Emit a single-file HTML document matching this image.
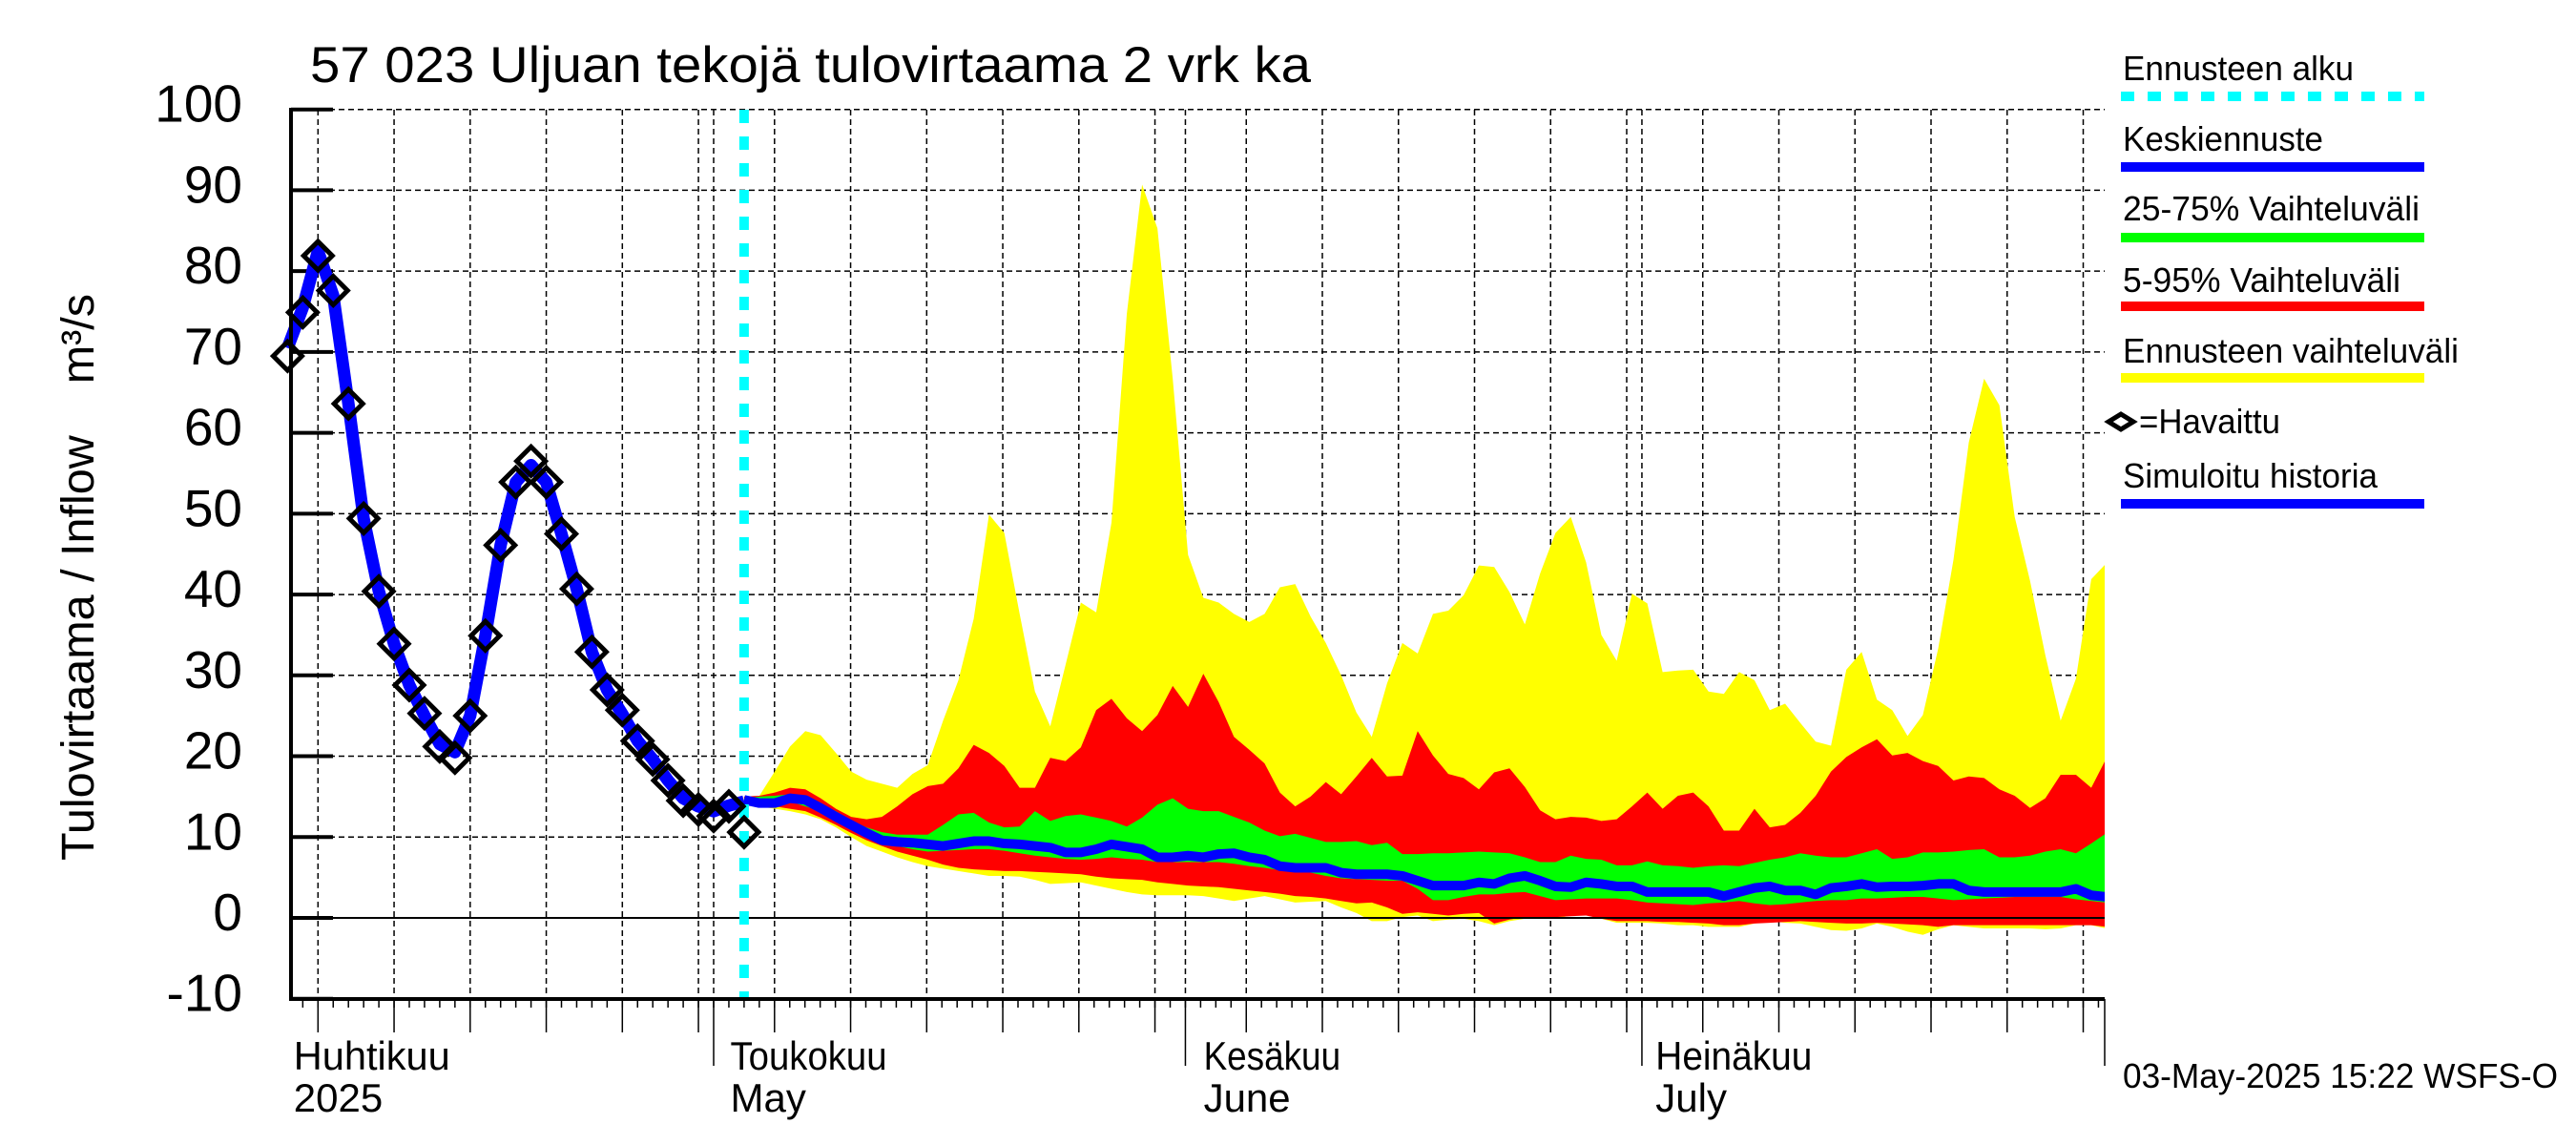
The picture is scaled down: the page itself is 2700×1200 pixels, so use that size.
<!DOCTYPE html>
<html><head><meta charset="utf-8"><style>
html,body{margin:0;padding:0;background:#fff;}
svg{display:block;font-family:"Liberation Sans",Arial,sans-serif;}
</style></head><body>
<svg id="chart" width="2700" height="1200" viewBox="0 0 2700 1200" xmlns="http://www.w3.org/2000/svg">
<text x="325" y="86" font-size="53" textLength="1049" lengthAdjust="spacingAndGlyphs">57 023 Uljuan tekojä tulovirtaama 2 vrk ka</text>
<text transform="translate(98,902) rotate(-90)" font-size="48" style="white-space:pre" textLength="594" lengthAdjust="spacingAndGlyphs">Tulovirtaama / Inflow    m³/s</text>
<g id="plot"></g>
<g id="legend">
 <text x="2225" y="84" font-size="36" textLength="242" lengthAdjust="spacingAndGlyphs">Ennusteen alku</text>
 <line x1="2223" y1="101" x2="2541" y2="101" stroke="#00ffff" stroke-width="10" stroke-dasharray="14 14"/>
 <text x="2225" y="158" font-size="36" textLength="210" lengthAdjust="spacingAndGlyphs">Keskiennuste</text>
 <rect x="2223" y="170" width="318" height="10" fill="#0000ff"/>
 <text x="2225" y="231" font-size="36" textLength="311" lengthAdjust="spacingAndGlyphs">25-75% Vaihteluväli</text>
 <rect x="2223" y="244" width="318" height="10" fill="#00ff00"/>
 <text x="2225" y="306" font-size="36" textLength="291" lengthAdjust="spacingAndGlyphs">5-95% Vaihteluväli</text>
 <rect x="2223" y="316" width="318" height="10" fill="#ff0000"/>
 <text x="2225" y="380" font-size="36" textLength="352" lengthAdjust="spacingAndGlyphs">Ennusteen vaihteluväli</text>
 <rect x="2223" y="391" width="318" height="10" fill="#ffff00"/>
 <path d="M2210,442 L2223,434 L2236,442 L2223,450 Z" fill="none" stroke="#000" stroke-width="5"/>
 <text x="2242" y="454" font-size="36" textLength="148" lengthAdjust="spacingAndGlyphs">=Havaittu</text>
 <text x="2225" y="511" font-size="36" textLength="267" lengthAdjust="spacingAndGlyphs">Simuloitu historia</text>
 <rect x="2223" y="523" width="318" height="10" fill="#0000ff"/>
</g>
<text x="2225" y="1140" font-size="36" textLength="456" lengthAdjust="spacingAndGlyphs">03-May-2025 15:22 WSFS-O</text>
</svg>
<script>
// days relative to 1 May 2025
const obsDays = [-28,-27,-26,-25,-24,-23,-22,-21,-20,-19,-18,-17,-16,-15,-14,-13,-12,-11,-10,-9,-8,-7,-6,-5,-4,-3,-2,-1,0,1,2];
const observed = [69.5,74.9,81.9,77.6,63.6,49.4,40.4,33.9,28.8,25.3,21.2,19.8,25.0,34.9,46.1,53.9,56.5,53.9,47.5,40.7,32.9,28.2,25.7,21.9,19.6,17.0,14.5,13.4,12.6,13.8,10.6];
const simHistory = [70.5,75.5,82.5,77.0,63.6,49.4,40.4,33.9,28.8,25.0,21.5,20.5,25.0,34.9,46.1,53.9,56.0,53.9,47.5,40.7,32.9,28.2,25.2,21.9,19.6,17.0,14.8,13.8,13.2,13.9,14.4];
const yellowTop = [15.0,15.1,18.1,21.2,23.1,22.6,20.4,18.1,17.1,16.6,16.1,17.8,18.9,24.4,29.4,37.0,49.9,47.6,37.6,28.0,23.7,31.3,39.0,37.8,48.9,74.7,90.7,85.3,66.7,44.9,39.6,39.0,37.6,36.6,37.6,40.9,41.3,37.3,34.0,30.0,25.4,22.4,29.0,34.0,32.7,
 37.6,38.0,39.9,43.6,43.4,40.3,36.3,42.6,47.6,49.6,44.0,35.0,31.8,40.1,38.9,30.4,30.6,30.7,28.0,27.7,30.4,29.4,25.7,26.5,24.1,21.8,21.3,30.7,32.9,27.0,25.7,22.5,25.1,33.3,44.3,58.8,66.7,63.4,49.6,41.7,32.5,24.4,29.6,41.9,43.9];
const redTop = [15.0,15.1,15.5,16.1,15.9,14.8,13.5,12.5,12.2,12.5,13.8,15.3,16.3,16.6,18.5,21.4,20.4,18.8,16.1,16.1,19.8,19.4,21.1,25.7,27.1,24.7,23.1,25.1,28.7,26.1,30.2,26.7,22.4,20.8,19.1,15.5,13.8,15.0,16.8,15.3,17.5,19.8,17.5,17.6,23.1,
 20.1,17.8,17.3,15.9,18.0,18.5,16.2,13.3,12.2,12.5,12.4,12.0,12.2,13.8,15.5,13.5,15.1,15.5,13.8,10.8,10.8,13.5,11.2,11.5,13.0,15.1,18.1,19.9,21.1,22.1,20.1,20.4,19.4,18.8,17.0,17.5,17.3,15.9,15.1,13.6,14.8,17.7,17.7,16.1,19.8];
const greenTop = [14.8,15.0,15.1,15.3,14.8,14.0,13.2,12.0,11.2,10.6,10.3,10.3,10.3,11.5,12.8,13.0,11.8,11.2,11.3,13.2,12.0,12.6,12.8,12.4,12.0,11.3,12.4,14.0,14.8,13.5,13.2,13.2,12.5,11.8,10.8,10.1,10.4,9.9,9.4,9.4,9.5,9.0,9.3,7.9,7.9,
 8.0,8.0,8.1,8.2,8.1,8.0,7.5,6.9,6.9,7.7,7.3,7.2,6.5,6.5,7.0,6.5,6.4,6.2,6.4,6.5,6.4,6.8,7.2,7.5,8.0,7.7,7.5,7.5,8.0,8.5,7.3,7.5,8.1,8.1,8.2,8.4,8.5,7.5,7.5,7.7,8.2,8.5,8.0,9.2,10.5];
const median = [14.6,14.2,14.2,14.8,14.6,13.6,12.5,11.5,10.5,9.6,9.4,9.3,9.1,8.9,9.2,9.5,9.5,9.2,9.1,8.9,8.7,8.1,8.1,8.5,9.1,8.8,8.5,7.5,7.5,7.7,7.5,7.9,8.0,7.5,7.2,6.4,6.2,6.2,6.2,5.6,5.4,5.4,5.4,5.2,4.6,
 4.0,4.0,4.0,4.4,4.2,4.9,5.2,4.6,3.9,3.8,4.4,4.2,3.9,3.9,3.2,3.2,3.2,3.2,3.2,2.7,3.2,3.7,3.9,3.4,3.4,2.9,3.7,3.9,4.2,3.8,3.9,3.9,4.0,4.2,4.2,3.4,3.2,3.2,3.2,3.2,3.2,3.2,3.6,2.8,2.6];
const greenBottom = [14.5,14.4,14.4,14.4,13.8,13.2,12.2,11.2,10.2,9.5,8.9,8.5,8.2,8.3,8.4,8.5,8.5,8.3,8.0,7.7,7.5,7.3,7.2,7.3,7.5,7.3,7.2,6.9,6.9,6.9,6.9,6.9,6.7,6.4,6.2,5.9,5.8,5.6,5.2,4.9,4.8,4.7,4.6,4.6,3.6,
 2.2,2.2,2.6,2.9,2.9,3.1,3.2,2.7,2.2,2.3,2.4,2.4,2.4,2.2,1.9,1.8,1.7,1.6,1.8,1.9,2.1,1.8,1.6,1.7,1.9,2.1,2.2,2.2,2.4,2.4,2.5,2.6,2.6,2.4,2.2,2.3,2.4,2.5,2.6,2.6,2.6,2.6,2.3,2.1,1.9];
const redBottom = [14.4,14.1,13.8,13.5,13.2,12.4,11.5,10.5,9.6,8.9,8.2,7.7,7.2,6.6,6.2,6.0,5.9,5.8,5.8,5.7,5.6,5.5,5.4,5.1,4.9,4.8,4.7,4.4,4.2,4.0,3.9,3.8,3.6,3.4,3.2,3.0,2.7,2.6,2.4,2.1,1.8,1.9,1.3,0.5,0.7,
 0.5,0.3,0.5,0.6,-0.7,-0.2,0.1,0.1,0.1,0.2,0.3,-0.1,-0.4,-0.4,-0.4,-0.5,-0.5,-0.6,-0.7,-0.9,-0.9,-0.7,-0.6,-0.5,-0.4,-0.5,-0.6,-0.7,-0.7,-0.6,-0.7,-0.8,-0.9,-1.1,-0.9,-0.9,-0.9,-0.9,-0.9,-0.9,-0.9,-0.9,-0.9,-0.9,-1.1];
const yellowBottom = [14.4,13.8,13.5,13.2,12.8,12.2,11.2,10.0,8.9,8.2,7.5,6.9,6.4,6.1,5.8,5.5,5.2,5.2,5.1,4.7,4.2,4.3,4.4,4.0,3.6,3.2,2.9,2.8,2.8,2.8,2.7,2.4,2.1,2.4,2.7,2.3,1.9,2.0,2.1,1.3,0.6,-0.4,-0.4,0.1,0.3,
 -0.4,-0.2,-0.1,-0.4,-0.9,-0.4,-0.1,-0.1,-0.1,0.3,0.5,-0.1,-0.6,-0.6,-0.6,-0.7,-0.9,-0.9,-1.1,-1.1,-1.1,-0.7,-0.4,-0.6,-0.7,-1.1,-1.5,-1.6,-1.3,-0.7,-1.1,-1.7,-2.1,-1.4,-0.9,-1.1,-1.3,-1.3,-1.3,-1.3,-1.4,-1.3,-0.9,-0.9,-1.3];
const forecastStartDay = 2;
const forecastStep = 1.006;
const yTicks = [100,90,80,70,60,50,40,30,20,10,0,-10];
const gridDays = [-26,-21,-16,-11,-6,-1,4,9,14,19,24,29,35,40,45,50,55,60,65,70,75,80,85,90];
const monthDays = [0,31,61];
const monthLabels = [["Huhtikuu","2025"],["Toukokuu","May"],["Kesäkuu","June"],["Heinäkuu","July"]];
const monthLabelDays = [-27.6,1.1,32.2,61.9];

const L=305,R=2206,T=115,B=1047;
const xS = d => 748 + 15.95*d;
const yS = v => 962 + (0 - v)*8.473;
const NS="http://www.w3.org/2000/svg";
const plot=document.getElementById('plot');
function mk(tag,attrs,parent){const e=document.createElementNS(NS,tag);for(const k in attrs)e.setAttribute(k,attrs[k]);(parent||plot).appendChild(e);return e;}
const fDays = median.map((_,i)=>forecastStartDay+i*forecastStep);

const defs=mk('defs',{});
const cp=mk('clipPath',{id:'pc'},defs);
mk('rect',{x:L,y:T-5,width:R-L,height:B-T+5},cp);

yTicks.forEach(v=>{
  const y=yS(v);
  if(v!==-10){
    const g=mk('line',{x1:L,x2:R,y1:y,y2:y,stroke:'#000','stroke-width':v===0?2:1.5,'stroke-dasharray':v===0?'none':'6 4'});
    
    
  }
  const t=mk('line',{x1:L,x2:349,y1:y,y2:y,stroke:'#000','stroke-width':4});
  
  
  const lb=mk('text',{x:254,y:y+13,'font-size':55,'text-anchor':'end'});
  lb.textContent=v;
  
  
});
gridDays.concat(monthDays).forEach(d=>{
  const x=xS(d);
  const g=mk('line',{x1:x,x2:x,y1:T,y2:B,stroke:'#000','stroke-width':1.5,'stroke-dasharray':'6 4'});
  
  
});

const gBand=mk('g',{'clip-path':'url(#pc)'});
function band(top,bot,color,name){
  let d='M'+fDays.map((dd,i)=>xS(dd)+','+yS(top[i])).join(' L');
  for(let i=bot.length-1;i>=0;i--) d+=' L'+xS(fDays[i])+','+yS(bot[i]);
  const p=mk('path',{d:d+'Z',fill:color},gBand);
  
  
}
band(yellowTop,yellowBottom,'#ffff00','forecast-range-band');
band(redTop,redBottom,'#ff0000','band-5-95');
band(greenTop,greenBottom,'#00ff00','band-25-75');
const med=mk('polyline',{points:fDays.map((d,i)=>xS(d)+','+yS(median[i])).join(' '),fill:'none',stroke:'#0000ff','stroke-width':10,'stroke-linejoin':'round'},gBand);


const z=mk('line',{x1:L,x2:R,y1:yS(0),y2:yS(0),stroke:'#000','stroke-width':2});



const sim=mk('polyline',{points:obsDays.map((d,i)=>xS(d)+','+yS(simHistory[i])).join(' '),fill:'none',stroke:'#0000ff','stroke-width':13,'stroke-linejoin':'round'});



const fs=mk('line',{x1:xS(2),x2:xS(2),y1:T,y2:B,stroke:'#00ffff','stroke-width':10,'stroke-dasharray':'14 14'});



obsDays.forEach((d,i)=>{
  const x=xS(d),y=yS(observed[i]);
  const p=mk('path',{d:`M${x-15},${y} L${x},${y-15} L${x+15},${y} L${x},${y+15} Z`,fill:'none',stroke:'#000','stroke-width':5});
  
  
});

const ax=mk('line',{x1:L,x2:L,y1:T-2,y2:B+2,stroke:'#000','stroke-width':4});


const bx=mk('line',{x1:L,x2:R,y1:B,y2:B,stroke:'#000','stroke-width':4});


for(let d=-27;d<=91;d++){
  const x=xS(d);
  const t=mk('line',{x1:x,x2:x,y1:B,y2:1056,stroke:'#000','stroke-width':1.5});
  
  
}
gridDays.forEach(d=>{const x=xS(d);
  const t=mk('line',{x1:x,x2:x,y1:B,y2:1082,stroke:'#000','stroke-width':1.5});
  
  });
monthDays.forEach(d=>{const x=xS(d);
  const t=mk('line',{x1:x,x2:x,y1:B,y2:1117,stroke:'#000','stroke-width':1.5});
  
  });
const rt=mk('line',{x1:R,x2:R,y1:B,y2:1117,stroke:'#000','stroke-width':1.5});


monthLabels.forEach((pair,i)=>{
  const x=xS(monthLabelDays[i]);
  const a=mk('text',{x:x,y:1121,'font-size':42,textLength:pair[0].length*20.5,lengthAdjust:'spacingAndGlyphs'});
  a.textContent=pair[0];
  
  
  const b=mk('text',{x:x,y:1165,'font-size':42});
  b.textContent=pair[1];
  
  
});
</script>
</body></html>
